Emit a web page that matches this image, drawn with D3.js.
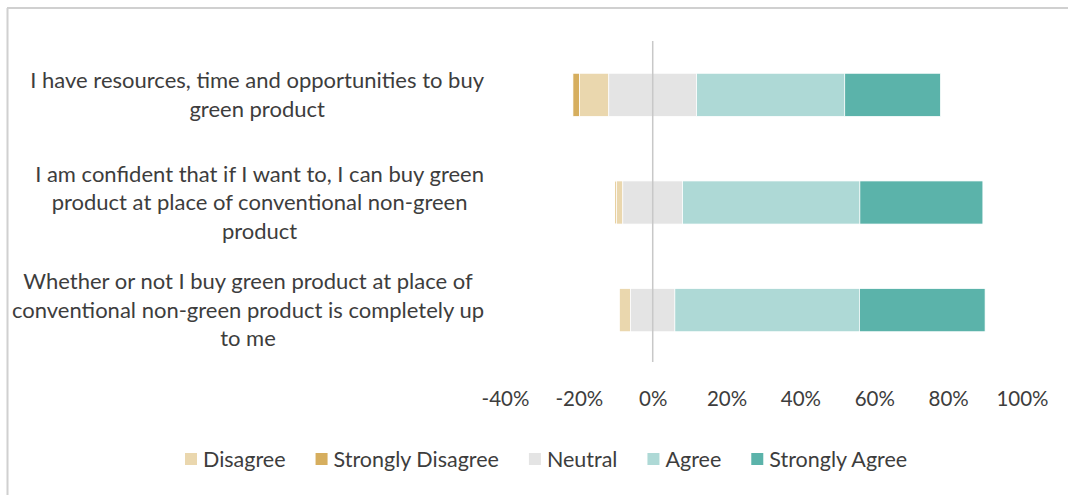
<!DOCTYPE html>
<html>
<head>
<meta charset="utf-8">
<script src="https://cdn.jsdelivr.net/npm/d3@7"></script>
<style>
    body { margin: 0; background: #fff; }
    text { font-family: Lato, "Open Sans", sans-serif; fill: #3d3d3d; }
</style>
</head>
<body>
<div id="chart"></div>
<script>
// categories (each label already broken into lines as in the picture)
const questions = [
    ["I have resources, time and opportunities to buy", "green product"],
    ["I am confident that if I want to, I can buy green", "product at place of conventional non-green", "product"],
    ["Whether or not I buy green product at place of", "conventional non-green product is completely up", "to me"]
];
const stronglyDisagree = [1.8, 0.4, 0];
const disagree = [7.9, 1.7, 3];
const neutral = [23.8, 16.2, 12];
const agree = [40.1, 48, 50];
const stronglyAgree = [25.9, 33.3, 34];
const tickValues = [-40, -20, 0, 20, 40, 60, 80, 100];
const seriesNames = ["Disagree", "Strongly Disagree", "Neutral", "Agree", "Strongly Agree"];
const seriesColors = ["#EAD7AE", "#D6AE5E", "#E4E4E4", "#AED9D6", "#5BB3AA"];

const W = 1068, H = 495;

const svg = d3.select("#chart").append("svg")
    .attr("width", W)
    .attr("height", H);

// frame lines (top and left only)
svg.append("line").attr("x1", 7).attr("x2", W).attr("y1", 8).attr("y2", 8)
    .style("stroke", "#d0d0d0").style("stroke-width", 2);
svg.append("line").attr("x1", 7.5).attr("x2", 7.5).attr("y1", 8).attr("y2", H)
    .style("stroke", "#d0d0d0").style("stroke-width", 2);

const x = d3.scaleLinear()
    .domain([-40, 100])
    .range([505, 1022]);

const y = d3.scaleBand()
    .domain(d3.range(questions.length))
    .range([41, 364])
    .paddingInner(0.6)
    .paddingOuter(0.3);

// build segments: SD, D, neutral-left on the negative side, then the rest
const rows = questions.map((q, i) => {
    const start = -(stronglyDisagree[i] + disagree[i] + neutral[i] / 2);
    const vals = [
        { key: "Strongly Disagree", v: stronglyDisagree[i] },
        { key: "Disagree", v: disagree[i] },
        { key: "Neutral", v: neutral[i] },
        { key: "Agree", v: agree[i] },
        { key: "Strongly Agree", v: stronglyAgree[i] }
    ];
    let acc = start;
    return vals.map(d => {
        const seg = { row: i, key: d.key, x0: acc, x1: acc + d.v };
        acc += d.v;
        return seg;
    });
});

const color = d3.scaleOrdinal().domain(seriesNames).range(seriesColors);

svg.selectAll(".bar")
    .data(rows.flat().filter(d => d.x1 > d.x0))
    .enter().append("rect")
    .attr("class", "bar")
    .attr("x", d => x(d.x0))
    .attr("width", d => x(d.x1) - x(d.x0))
    .attr("y", d => y(d.row))
    .attr("height", y.bandwidth())
    .style("fill", d => color(d.key))
    .style("stroke", "#fff")
    .style("stroke-width", 0.7);

// zero line
svg.append("line")
    .attr("x1", x(0)).attr("x2", x(0))
    .attr("y1", 41).attr("y2", 362)
    .style("stroke", "#c8c8c8").style("stroke-width", 1.5);

// x axis
const xAxis = d3.axisBottom(x)
    .tickValues(tickValues)
    .tickSize(0)
    .tickFormat(d => d + "%");

const gx = svg.append("g")
    .attr("class", "x-axis")
    .attr("transform", "translate(0, 380)")
    .call(xAxis);
gx.select(".domain").remove();
gx.selectAll("text")
    .style("font-size", "20.5px")
    .style("font-family", "Lato, sans-serif")
    .attr("fill", "#3d3d3d")
    .attr("dy", "1.1em");

// category labels, right-aligned block, lines centered inside it
const lineH = 28.5;
const labelRight = 484;
questions.forEach((lines, i) => {
    const g = svg.append("g");
    const cy = y(i) + y.bandwidth() / 2;
    const texts = lines.map((ln, j) => g.append("text")
        .text(ln)
        .style("font-size", "22px")
        .attr("y", cy + (j - (lines.length - 1) / 2) * lineH)
        .attr("dy", "0.35em")
        .attr("text-anchor", "middle"));
    const maxW = d3.max(texts, t => t.node().getComputedTextLength());
    texts.forEach(t => t.attr("x", labelRight - maxW / 2));
});

// legend
const legend = svg.append("g").attr("class", "legend");
let lx = 185;
const ly = 459;
seriesNames.forEach((name, i) => {
    legend.append("rect")
        .attr("x", lx).attr("y", ly - 6)
        .attr("width", 12).attr("height", 12)
        .style("fill", seriesColors[i]);
    const t = legend.append("text")
        .attr("x", lx + 18).attr("y", ly)
        .attr("dy", "0.35em")
        .style("font-size", "21.5px")
        .text(name);
    lx += 18 + t.node().getComputedTextLength() + 30;
});
</script>
</body>
</html>
